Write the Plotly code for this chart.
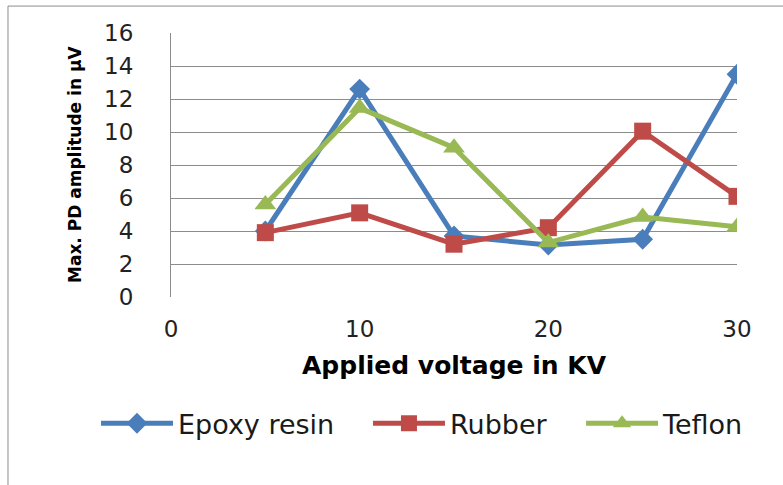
import plotly.graph_objects as go

voltage_kv = [5, 10, 15, 20, 25, 30]
epoxy_resin = [4.0, 12.6, 3.7, 3.15, 3.5, 13.5]
rubber = [3.9, 5.1, 3.2, 4.2, 10.05, 6.1]
teflon = [5.6, 11.45, 9.05, 3.3, 4.85, 4.25]

x_ticks = [0, 10, 20, 30]
y_ticks = [0, 2, 4, 6, 8, 10, 12, 14, 16]

# name, values, colour, marker, marker size, legend slot, legend x (paper)
series = [
    ("Epoxy resin", epoxy_resin, "#4A7EBB", "diamond", 16, "legend", -0.1325),
    ("Rubber", rubber, "#BE4B48", "square", 17, "legend2", 0.348),
    ("Teflon", teflon, "#98B954", "triangle-up", 19, "legend3", 0.7245),
]

fig = go.Figure()
for name, vals, color, symbol, size, leg, _ in series:
    fig.add_trace(go.Scatter(
        x=voltage_kv, y=vals, name=name, mode="lines+markers",
        line=dict(color=color, width=5),
        marker=dict(symbol=symbol, size=size, color=color),
        legend=leg,
    ))

font_family = "DejaVu Sans, sans-serif"
grid_grey = "#8C8C8C"

legend_common = dict(orientation="h", xanchor="left", y=-0.48, yanchor="middle",
                     font=dict(size=27, color="#1a1a1a"), itemwidth=72,
                     bgcolor="rgba(0,0,0,0)", borderwidth=0)
legends = {leg: dict(legend_common, x=lx) for _, _, _, _, _, leg, lx in series}

fig.update_layout(
    width=783, height=485,
    margin=dict(l=171, r=46, t=33, b=188),
    paper_bgcolor="white", plot_bgcolor="white",
    font=dict(family=font_family, color="#000000"),
    showlegend=True,
    xaxis=dict(range=[0, 30], tickvals=x_ticks, showgrid=False, zeroline=False,
               showline=False, ticks="", tickfont=dict(size=23, color="#222222"),
               ticklabelstandoff=16, fixedrange=True),
    yaxis=dict(range=[0, 16], tickvals=y_ticks, showgrid=True, gridcolor=grid_grey,
               gridwidth=1, zeroline=False, showline=True, linecolor=grid_grey,
               linewidth=1, ticks="", tickfont=dict(size=23, color="#222222"),
               ticklabelstandoff=32, fixedrange=True),
    annotations=[
        dict(text="<b>Applied voltage in KV</b>", xref="paper", yref="paper",
             x=0.5, y=-0.2576, xanchor="center", yanchor="middle", showarrow=False,
             font=dict(size=25, color="#000000")),
        dict(text="<b>Max. PD amplitude in µV</b>", xref="paper", yref="paper",
             x=-0.1696, y=0.5, xanchor="center", yanchor="middle", showarrow=False,
             textangle=-90, font=dict(size=17, color="#000000")),
    ],
    shapes=[
        dict(type="rect", xref="paper", yref="paper", x0=-0.288, x1=1.2,
             y0=-0.8, y1=1.102, line=dict(color=grid_grey, width=1), layer="below"),
    ],
    **legends,
)

fig.write_html("out.html")
